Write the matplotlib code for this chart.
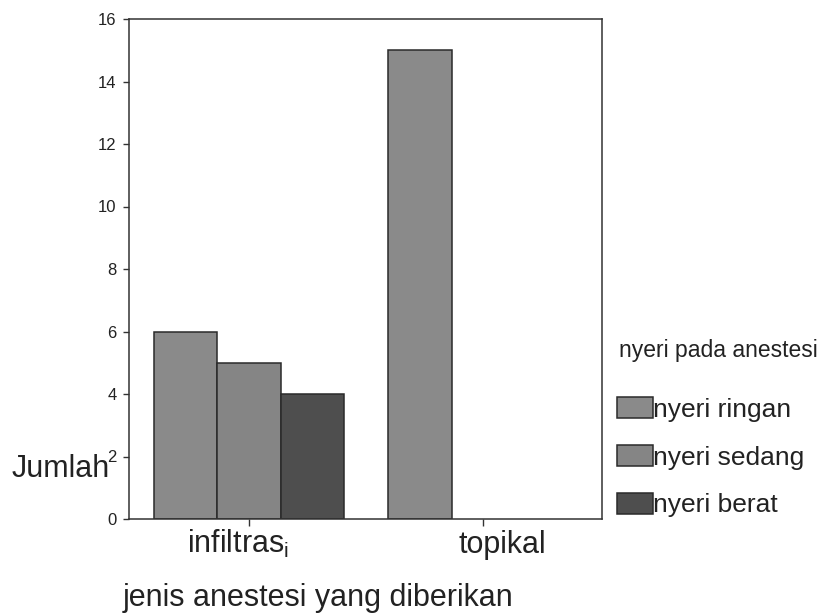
import matplotlib
matplotlib.use("Agg")
import matplotlib.pyplot as plt
import matplotlib.transforms as mtransforms
import numpy as np

plt.rcParams['font.family'] = ['Liberation Sans', 'DejaVu Sans']

categories = ["infiltras$\\mathregular{_i}$", "topikal"]
series_names = ["nyeri ringan", "nyeri sedang", "nyeri berat"]
legend_title = "nyeri pada anestesi"
ringan = [6, 15]
sedang = [5, 0]
berat = [4, 0]
yticks = [0, 2, 4, 6, 8, 10, 12, 14, 16]
colors = ["#8a8a8a", "#858585", "#4e4e4e"]

fig = plt.figure(figsize=(8.19, 6.15), dpi=100)
ax = fig.add_axes([129/819, 1-519/615, (602-129)/819, (519-19)/615])

x = np.arange(len(categories))
w = 0.27
for i, (vals, name, c) in enumerate(zip([ringan, sedang, berat], series_names, colors)):
    xs = x + (i - 1) * w
    keep = [j for j, v in enumerate(vals) if v > 0]
    ax.bar(xs[keep], np.array(vals)[keep], width=w, color=c, edgecolor="#2a2a2a",
           linewidth=1.1, label=name)

ax.set_xlim(-0.513, 1.508)
ax.set_ylim(0, 16)
ax.set_yticks(yticks)
ax.set_yticklabels([str(t) for t in yticks], fontsize=12)
ax.set_xticks(x)
ax.set_xticklabels([])
ax.tick_params(axis='y', length=4, width=1, pad=5, color="#333333", labelcolor="#222222")
ax.tick_params(axis='x', length=5, width=1, color="#333333")
for s in ax.spines.values():
    s.set_linewidth(1.1)
    s.set_color("#333333")

# category labels (slightly offset from the ticks, as in the reference)
label_dx = [-0.047, 0.08]
trans = mtransforms.blended_transform_factory(ax.transData, fig.transFigure)
for xi, lab, dx in zip(x, categories, label_dx):
    ax.text(xi + dx, 1-553/615, lab, transform=trans, fontsize=22, ha='center',
            va='baseline', color="#222222")

fig.text(12/819, 1-477/615, "Jumlah", fontsize=22, ha='left', va='baseline', color="#222222")
fig.text(318/819, 1-606/615, "jenis anestesi yang diberikan", fontsize=22,
         ha='center', va='baseline', color="#222222")

fig.text(619/819, 1-350/615, legend_title, fontsize=16.5, ha='left', va='center',
         color="#222222")
leg = fig.legend(loc='upper left', bbox_to_anchor=(617/819, 1-397/615),
                 frameon=False, fontsize=19, handlelength=1.35, handleheight=0.85,
                 handletextpad=0.0, labelspacing=0.88, borderpad=0, borderaxespad=0)
for h in leg.legend_handles:
    h.set_linewidth(1.1)
for t in leg.get_texts():
    t.set_color("#222222")

fig.savefig("out.png", dpi=100)
